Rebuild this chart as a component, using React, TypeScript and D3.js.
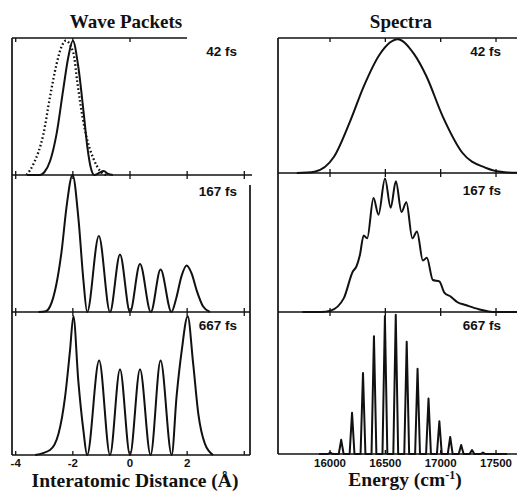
import React from 'react';
import * as d3 from 'd3';

type Pt = [number, number];

const timeLabels = ['42 fs', '167 fs', '667 fs'];
const distTicks = [-4, -2, 0, 2, 4];
const distTickLabels = ['-4', '-2', '0', '2'];
const energyTicks = [16000, 16500, 17000, 17500];
const energyTickLabels = ['16000', '16500', '17000', '17500'];

// Wave packets (distance in Å, normalized density)
const packet42Solid: Pt[] = [
  [-3.6, 0], [-3.15, 0.0], [-3.0, 0.02], [-2.8, 0.1], [-2.57, 0.3], [-2.34, 0.62],
  [-2.16, 0.86], [-2.0, 0.98], [-1.81, 0.79], [-1.63, 0.47], [-1.49, 0.2],
  [-1.38, 0.06], [-1.25, 0.0], [-1.08, 0.015], [-0.92, 0.03], [-0.78, 0.01], [-0.6, 0],
];
const packet42Dotted: Pt[] = [
  [-3.62, 0], [-3.38, 0.08], [-3.03, 0.3], [-2.8, 0.57], [-2.57, 0.81], [-2.39, 0.94],
  [-2.25, 0.98], [-1.98, 0.89], [-1.84, 0.67], [-1.66, 0.42], [-1.49, 0.25],
  [-1.28, 0.12], [-1.05, 0.03], [-0.82, 0],
];
const packet167: Pt[] = [
  [-3.2, 0], [-2.95, 0.005], [-2.8, 0.04], [-2.57, 0.21], [-2.39, 0.45], [-2.22, 0.77],
  [-2.01, 1.0], [-1.8, 0.67], [-1.63, 0.23], [-1.5, 0], [-1.09, 0.555], [-0.7, 0],
  [-0.35, 0.42], [0.0, 0], [0.35, 0.35], [0.73, 0], [1.07, 0.31], [1.45, 0],
  [1.63, 0.11], [1.8, 0.26], [1.98, 0.34], [2.16, 0.28], [2.33, 0.16], [2.56, 0.04],
  [2.8, 0],
];
const packet667: Pt[] = [
  [-3.32, 0], [-2.8, 0.035], [-2.5, 0.15], [-2.27, 0.41], [-2.1, 0.73], [-1.98, 0.97],
  [-1.81, 0.52], [-1.63, 0.17], [-1.5, 0], [-1.08, 0.66], [-0.7, 0], [-0.35, 0.6],
  [0.0, 0], [0.35, 0.6], [0.72, 0], [1.07, 0.66], [1.46, 0], [1.63, 0.41],
  [1.81, 0.73], [2.02, 0.97], [2.21, 0.64], [2.39, 0.29], [2.62, 0.08], [2.91, 0],
];

// Spectra (energy in cm^-1, normalized intensity)
const spectrum42: Pt[] = [
  [15700, 0], [15860, 0.01], [16036, 0.12], [16185, 0.39], [16304, 0.64], [16450, 0.88],
  [16612, 0.99], [16760, 0.88], [16869, 0.72], [17018, 0.42], [17196, 0.15],
  [17402, 0.04], [17580, 0.005], [17789, 0],
];
const spectrum167: Pt[] = [
  [15750, 0], [15920, 0], [16006, 0.01], [16125, 0.1], [16205, 0.29], [16240, 0.33],
  [16270, 0.41], [16304, 0.55], [16336, 0.53], [16393, 0.82], [16438, 0.7],
  [16497, 0.96], [16548, 0.75], [16595, 0.94], [16646, 0.72], [16690, 0.79],
  [16744, 0.53], [16786, 0.58], [16839, 0.37], [16875, 0.39], [16929, 0.23],
  [16988, 0.22], [17033, 0.14], [17092, 0.11], [17152, 0.07], [17226, 0.05],
  [17345, 0.02], [17491, 0], [17789, 0],
];
const lineEnergy667 = [16003, 16101, 16199, 16298, 16397, 16496, 16594, 16693, 16791, 16890, 16988, 17086, 17185, 17283, 17382];
const lineHeight667 = [0.01, 0.1, 0.29, 0.57, 0.83, 0.97, 0.98, 0.79, 0.6, 0.39, 0.23, 0.12, 0.063, 0.028, 0.01];

const W = 517;
const H = 491;
const INK = '#111';

const leftPanels: [number, number][] = [[38, 175], [175, 312], [312, 455]];
const rightPanels: [number, number][] = [[38, 173], [173, 312], [312, 454]];

export default function App() {
  const xL = d3.scaleLinear().domain([-4.13, 4.2]).range([12, 250]);
  const xR = d3.scaleLinear().domain([15530, 17789]).range([278, 528]);
  const yScale = (p: [number, number]) => d3.scaleLinear().domain([0, 1]).range([p[1], p[0]]);

  const lineL = (p: [number, number], curve = d3.curveMonotoneX) =>
    d3.line<Pt>().x(d => xL(d[0])).y(d => yScale(p)(d[1])).curve(curve);
  const lineR = (p: [number, number], curve: any = d3.curveMonotoneX) =>
    d3.line<Pt>().x(d => xR(d[0])).y(d => yScale(p)(d[1])).curve(curve);

  const spikes: Pt[] = [[15900, 0]];
  lineEnergy667.forEach((e, i) => {
    spikes.push([e - 22, 0], [e, lineHeight667[i]], [e + 22, 0]);
  });
  spikes.push([17600, 0]);

  const frame = { stroke: INK, strokeWidth: 1.7, fill: 'none' } as const;
  const curve = { stroke: INK, strokeWidth: 2, fill: 'none', strokeLinejoin: 'round' as const };
  const tickLen = 4;
  const labelStyle = { fontFamily: '"Liberation Sans", Arial, sans-serif', fontWeight: 700, fontSize: 13.5, fill: INK };
  const tickStyle = { fontFamily: '"Liberation Sans", Arial, sans-serif', fontWeight: 700, fontSize: 11.5, fill: INK };
  const titleStyle = { fontFamily: '"Liberation Serif", "Times New Roman", serif', fontWeight: 700, fontSize: 19, fill: INK };
  const axisTitleStyle = { fontFamily: '"Liberation Serif", "Times New Roman", serif', fontWeight: 700, fontSize: 19.5, fill: INK };

  return (
    <svg width={W} height={H} style={{ position: 'absolute', left: 0, top: 0, background: '#fff' }}>
      <rect x={0} y={0} width={W} height={H} fill="#fff" />

      {/* Titles */}
      <text x={126} y={28} textAnchor="middle" style={titleStyle}>Wave Packets</text>
      <text x={401} y={28} textAnchor="middle" style={titleStyle}>Spectra</text>

      {/* Left frame */}
      <line x1={12} y1={38} x2={12} y2={455} {...frame} />
      <line x1={12} y1={38} x2={187} y2={38} {...frame} />
      <line x1={12} y1={175} x2={252} y2={175} {...frame} />
      <line x1={12} y1={312} x2={250} y2={312} {...frame} />
      <line x1={12} y1={455} x2={250} y2={455} {...frame} />
      <line x1={250} y1={185} x2={250} y2={455} {...frame} />
      {leftPanels.map((p, i) => (
        <g key={'lt' + i}>
          {distTicks.filter(t => i > 0 || xL(t) <= 187).map(t => (
            <line key={'a' + t} x1={xL(t)} x2={xL(t)} y1={p[0]} y2={p[0] + tickLen} {...frame} strokeWidth={1.3} />
          ))}
          {distTicks.map(t => (
            <line key={'b' + t} x1={xL(t)} x2={xL(t)} y1={p[1]} y2={p[1] - tickLen} {...frame} strokeWidth={1.3} />
          ))}
        </g>
      ))}

      {/* Right frame */}
      <line x1={278} y1={38} x2={278} y2={454} {...frame} />
      <line x1={278} y1={38} x2={W} y2={38} {...frame} />
      <line x1={278} y1={173} x2={W} y2={173} {...frame} />
      <line x1={278} y1={312} x2={W} y2={312} {...frame} />
      <line x1={278} y1={454} x2={W} y2={454} {...frame} />
      {rightPanels.map((p, i) => (
        <g key={'rt' + i}>
          {energyTicks.map(t => (
            <g key={t}>
              <line x1={xR(t)} x2={xR(t)} y1={p[0]} y2={p[0] + tickLen} {...frame} strokeWidth={1.3} />
              <line x1={xR(t)} x2={xR(t)} y1={p[1]} y2={p[1] - tickLen} {...frame} strokeWidth={1.3} />
            </g>
          ))}
        </g>
      ))}

      {/* Wave packet curves */}
      <path d={lineL(leftPanels[0])(packet42Dotted) || ''} stroke={INK} strokeWidth={2.3} fill="none" strokeDasharray="1.6 2.4" />
      <path d={lineL(leftPanels[0])(packet42Solid) || ''} {...curve} />
      <path d={lineL(leftPanels[1])(packet167) || ''} {...curve} />
      <path d={lineL(leftPanels[2])(packet667) || ''} {...curve} />

      {/* Spectra curves */}
      <path d={lineR(rightPanels[0])(spectrum42) || ''} {...curve} />
      <path d={lineR(rightPanels[1])(spectrum167) || ''} {...curve} />
      <path d={lineR(rightPanels[2], d3.curveLinear)(spikes) || ''} {...curve} strokeWidth={2} />

      {/* Time labels */}
      {timeLabels.map((t, i) => (
        <text key={'l' + t} x={237} y={[56, 196, 330][i]} textAnchor="end" style={labelStyle}>{t}</text>
      ))}
      {timeLabels.map((t, i) => (
        <text key={'r' + t} x={501} y={[56, 195, 330][i]} textAnchor="end" style={labelStyle}>{t}</text>
      ))}

      {/* Tick labels */}
      {distTickLabels.map((l, i) => (
        <text key={l} x={xL(distTicks[i])} y={467} textAnchor="middle" style={tickStyle}>{l}</text>
      ))}
      {energyTickLabels.map((l, i) => (
        <text key={l} x={xR(energyTicks[i])} y={467} textAnchor="middle" style={tickStyle}>{l}</text>
      ))}

      {/* Axis titles */}
      <text x={135} y={487} textAnchor="middle" style={axisTitleStyle}>Interatomic Distance (Å)</text>
      <text x={405} y={486} textAnchor="middle" style={axisTitleStyle}>
        Energy (cm<tspan dy={-7} fontSize={12}>-1</tspan><tspan dy={7}>)</tspan>
      </text>
    </svg>
  );
}
